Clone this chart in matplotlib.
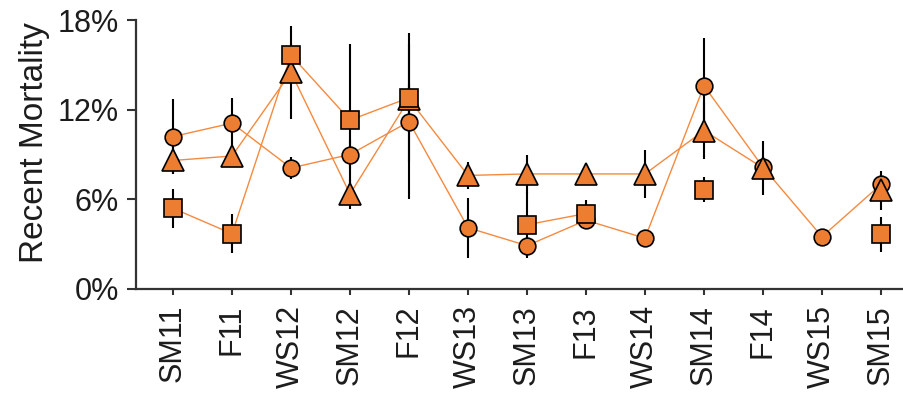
import numpy as np
import matplotlib
matplotlib.use("Agg")
import matplotlib.pyplot as plt
from matplotlib.ticker import FuncFormatter

plt.rcParams['font.family'] = ['Liberation Sans', 'DejaVu Sans']

seasons = ['SM11', 'F11', 'WS12', 'SM12', 'F12', 'WS13', 'SM13',
           'F13', 'WS14', 'SM14', 'F14', 'WS15', 'SM15']
nan = np.nan

# recent mortality (%) and error half-widths for the three groups
circle_vals = [10.2, 11.1, 8.1, 9.0, 11.2, 4.1, 2.9, 4.6, 3.4, 13.6, 8.15, 3.5, 7.0]
circle_err = [2.5, 1.7, 0.75, 1.0, 5.2, 2.0, 0.5, 0.4, 0.3, 3.2, 0.5, 0.3, 0.5]

triangle_vals = [8.6, 8.9, 14.5, 6.35, 12.7, 7.6, 7.7, 7.7, 7.7, 10.6, 8.1, nan, 6.6]
triangle_err = [0.9, 0.7, 3.1, 1.0, 1.0, 0.9, 1.3, 0.5, 1.6, 1.9, 1.8, nan, 1.3]

square_vals = [5.4, 3.7, 15.65, 11.3, 12.8, nan, 4.3, 5.05, nan, 6.65, nan, nan, 3.65]
square_err = [1.3, 1.3, 0.8, 5.1, 4.3, nan, 2.2, 0.9, nan, 0.85, nan, nan, 1.2]

fill = '#ED7D31'
line_col = '#F58A3E'
text_col = '#1c1c1c'
spine_col = '#333333'

fig = plt.figure(figsize=(9.04, 4.0), dpi=100)
ax = fig.add_axes([136 / 904, 111 / 400, 1 - 136 / 904, 269 / 400])

x = np.arange(len(seasons))
series = [
    (circle_vals, circle_err, 'o', 12.0, 4),
    (triangle_vals, triangle_err, '^', 16.5, 5),
    (square_vals, square_err, 's', 12.5, 6),
]

# error bars sit underneath the connecting lines, which sit under the markers
for vals, err, mk, ms, z in series:
    v = np.array(vals, dtype=float)
    e = np.array(err, dtype=float)
    ax.errorbar(x, v, yerr=e, fmt='none', ecolor='black', elinewidth=1.5,
                capsize=0, zorder=2, clip_on=False)
for vals, err, mk, ms, z in series:
    v = np.array(vals, dtype=float)
    ax.plot(x, v, color=line_col, lw=1.0, zorder=3, clip_on=False)
for vals, err, mk, ms, z in series:
    v = np.array(vals, dtype=float)
    ax.plot(x, v, ls='none', marker=mk, markersize=ms, markerfacecolor=fill,
            markeredgecolor='black', markeredgewidth=1.2, zorder=z, clip_on=False)

ax.set_xlim(-0.627, 12.39)
ax.set_ylim(0, 18)
ax.set_yticks([0, 6, 12, 18])
ax.yaxis.set_major_formatter(FuncFormatter(lambda v, p: f'{v:.0f}%'))
ax.set_xticks(x)
ax.set_xticklabels(seasons, rotation=90)

for s in ('top', 'right'):
    ax.spines[s].set_visible(False)
for s in ('left', 'bottom'):
    ax.spines[s].set_color(spine_col)
    ax.spines[s].set_linewidth(1.6)

ax.tick_params(axis='y', length=6.5, width=1.5, color=spine_col, pad=6,
               labelsize=22, labelcolor=text_col)
ax.tick_params(axis='x', length=4.5, width=1.5, color=spine_col, pad=7,
               labelsize=22, labelcolor=text_col)

fig.text(35 / 904, 1 - 143 / 400, 'Recent Mortality', rotation=90,
         ha='center', va='center', fontsize=24, color=text_col)

fig.savefig('out.png', dpi=100)
